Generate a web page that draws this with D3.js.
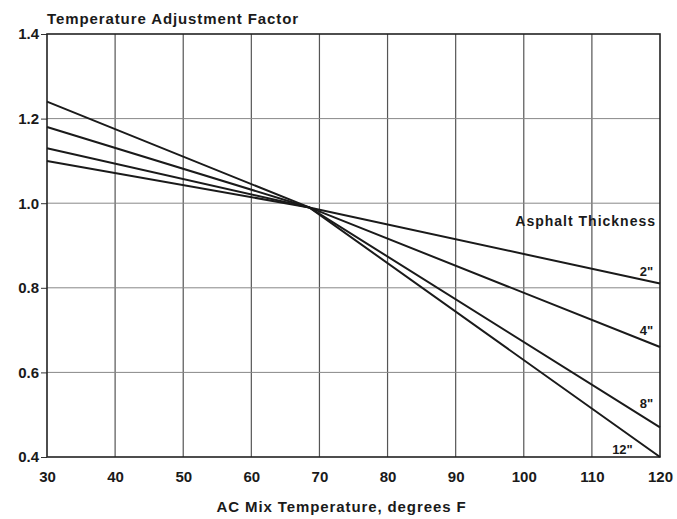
<!DOCTYPE html>
<html>
<head>
<meta charset="utf-8">
<script src="https://cdn.jsdelivr.net/npm/d3@7"></script>
<style>
  body { margin: 0; background: #fff; }
  svg text { font-family: "Liberation Sans", Arial, sans-serif; font-weight: bold; fill: #1a1a1a; }
</style>
</head>
<body>
<script>
// Data
const temps = [30, 68.5, 120];
const thickness = ["2\"", "4\"", "8\"", "12\""];
const factor2 = [1.10, 0.99, 0.81];
const factor4 = [1.13, 0.99, 0.66];
const factor8 = [1.18, 0.99, 0.47];
const factor12 = [1.24, 0.99, 0.40];
// where each thickness label sits, in chart units
const labelTemp = [119, 119, 119, 116];
const labelFactor = [0.821, 0.681, 0.509, 0.40];
const xTicks = [30, 40, 50, 60, 70, 80, 90, 100, 110, 120];
const yTicks = [0.4, 0.6, 0.8, 1.0, 1.2, 1.4];

// Set up chart dimensions
const margin = { top: 34, right: 17, bottom: 62, left: 47 };
const W = 677, H = 519;
const width = W - margin.left - margin.right;
const height = H - margin.top - margin.bottom;

const svg = d3.select("body")
    .append("svg")
    .attr("width", W)
    .attr("height", H)
    .append("g")
    .attr("transform", `translate(${margin.left},${margin.top})`);

const xScale = d3.scaleLinear().domain([30, 120]).range([0, width]);
const yScale = d3.scaleLinear().domain([0.4, 1.4]).range([height, 0]);

// Grid
svg.append("g")
    .selectAll("line")
    .data(xTicks.slice(1, -1))
    .join("line")
    .attr("x1", d => xScale(d)).attr("x2", d => xScale(d))
    .attr("y1", 0).attr("y2", height)
    .attr("stroke", "#555")
    .attr("stroke-width", 1.2);

svg.append("g")
    .selectAll("line")
    .data(yTicks.slice(1, -1))
    .join("line")
    .attr("x1", 0).attr("x2", width)
    .attr("y1", d => yScale(d)).attr("y2", d => yScale(d))
    .attr("stroke", "#888")
    .attr("stroke-width", 1);

// Axes
const xAxis = d3.axisBottom(xScale).tickValues(xTicks).tickSize(0).tickPadding(14).tickFormat(d3.format("d"));
const yAxis = d3.axisLeft(yScale).tickValues(yTicks).tickSize(6).tickPadding(2).tickFormat(d3.format(".1f"));

const gx = svg.append("g")
    .attr("transform", `translate(0,${height})`)
    .call(xAxis);
gx.select(".domain").remove();
gx.selectAll("text").attr("font-size", 15).attr("fill", "#1a1a1a");

const gy = svg.append("g").call(yAxis);
gy.select(".domain").remove();
gy.selectAll("line").attr("stroke", "#333");
gy.selectAll("text").attr("font-size", 15).attr("fill", "#1a1a1a");

// Frame
svg.append("rect")
    .attr("width", width)
    .attr("height", height)
    .attr("fill", "none")
    .attr("stroke", "#222")
    .attr("stroke-width", 1.6);

// Lines
const series = [factor2, factor4, factor8, factor12];
const line = d3.line()
    .x((d, i) => xScale(temps[i]))
    .y(d => yScale(d));

svg.append("g")
    .selectAll("path")
    .data(series)
    .join("path")
    .attr("d", d => line(d))
    .attr("fill", "none")
    .attr("stroke", "#1a1a1a")
    .attr("stroke-width", 2);

// Thickness labels
svg.append("g")
    .selectAll("text")
    .data(thickness)
    .join("text")
    .attr("x", (d, i) => xScale(labelTemp[i]))
    .attr("y", (d, i) => yScale(labelFactor[i]) - 3)
    .attr("text-anchor", "end")
    .attr("font-size", 13)
    .text(d => d);

svg.append("text")
    .attr("x", width - 4)
    .attr("y", yScale(0.945))
    .attr("text-anchor", "end")
    .attr("font-size", 14)
    .attr("letter-spacing", 1)
    .text("Asphalt Thickness");

// Titles
svg.append("text")
    .attr("x", 0)
    .attr("y", -10)
    .attr("font-size", 15)
    .attr("letter-spacing", 0.9)
    .text("Temperature Adjustment Factor");

svg.append("text")
    .attr("x", width / 2 - 12)
    .attr("y", height + 55)
    .attr("text-anchor", "middle")
    .attr("font-size", 15)
    .attr("letter-spacing", 0.9)
    .text("AC Mix Temperature, degrees F");
</script>
</body>
</html>
